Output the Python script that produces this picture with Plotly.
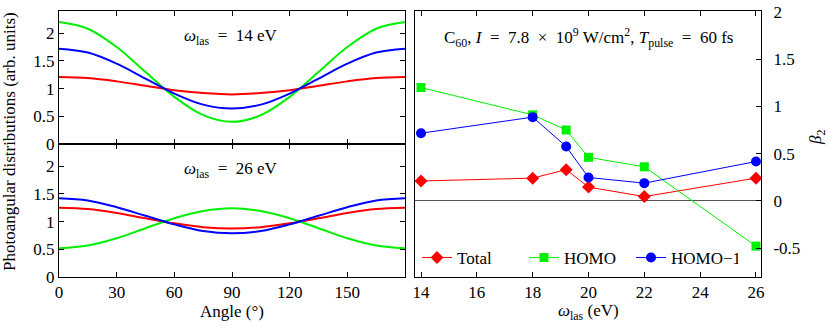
import plotly.graph_objects as go

# ---------------- data ----------------
angles = [0, 15, 30, 45, 60, 75, 90, 105, 120, 135, 150, 165, 180]

# omega_las = 14 eV
d14_total = [1.21, 1.19, 1.13, 1.05, 0.97, 0.92, 0.895, 0.92, 0.97, 1.05, 1.13, 1.19, 1.21]
d14_homo = [2.20, 2.08, 1.75, 1.30, 0.85, 0.52, 0.40, 0.52, 0.85, 1.30, 1.75, 2.08, 2.20]
d14_homo1 = [1.72, 1.65, 1.45, 1.18, 0.91, 0.71, 0.64, 0.71, 0.91, 1.18, 1.45, 1.65, 1.72]

# omega_las = 26 eV
d26_total = [1.25, 1.225, 1.155, 1.06, 0.97, 0.90, 0.875, 0.90, 0.97, 1.06, 1.155, 1.225, 1.25]
d26_homo = [0.52, 0.57, 0.70, 0.88, 1.06, 1.19, 1.24, 1.19, 1.06, 0.88, 0.70, 0.57, 0.52]
d26_homo1 = [1.42, 1.38, 1.26, 1.105, 0.95, 0.83, 0.79, 0.83, 0.95, 1.105, 1.26, 1.38, 1.42]

# beta_2 vs photon energy
omega = [14, 18, 19.2, 20, 22, 26]
beta_total = [0.21, 0.24, 0.33, 0.145, 0.045, 0.24]
beta_homo = [1.20, 0.91, 0.75, 0.46, 0.36, -0.48]
beta_homo1 = [0.716, 0.886, 0.575, 0.247, 0.187, 0.416]

angle_ticks = [0, 30, 60, 90, 120, 150]
dist_ticks = [0, 0.5, 1, 1.5, 2]
dist_ticktext = ["0", "0.5", "1", "1.5", "2"]
omega_ticks = [14, 16, 18, 20, 22, 24, 26]
beta_ticks = [-0.5, 0, 0.5, 1, 1.5, 2]
beta_ticktext = ["-0.5", "0", "0.5", "1", "1.5", "2"]

RED = "#ff0000"
GREEN = "#00f000"
BLUE = "#0000ff"
FONT = "Liberation Serif"
FS = 17
W, H = 831, 326

fig = go.Figure()

# left panels
for xa, ya, data in [("x", "y", (d14_total, d14_homo, d14_homo1)),
                     ("x2", "y2", (d26_total, d26_homo, d26_homo1))]:
    for vals, col in zip(data, (RED, GREEN, BLUE)):
        fig.add_trace(go.Scatter(x=angles, y=vals, mode="lines", xaxis=xa, yaxis=ya,
                                 line=dict(color=col, width=2, shape="spline", smoothing=1.0),
                                 showlegend=False, hoverinfo="skip"))

# right panel
fig.add_trace(go.Scatter(x=omega, y=beta_total, mode="lines+markers", name="Total",
                         xaxis="x3", yaxis="y3", line=dict(color=RED, width=1),
                         marker=dict(symbol="diamond", size=10, color=RED)))
fig.add_trace(go.Scatter(x=omega, y=beta_homo, mode="lines+markers", name="HOMO",
                         xaxis="x3", yaxis="y3", line=dict(color=GREEN, width=1),
                         marker=dict(symbol="square", size=9, color=GREEN)))
fig.add_trace(go.Scatter(x=omega, y=beta_homo1, mode="lines+markers", name="HOMO\u22121",
                         xaxis="x3", yaxis="y3", line=dict(color=BLUE, width=1),
                         marker=dict(symbol="circle", size=10, color=BLUE)))

def px_x(p):
    return p / W

def px_y(p):
    return 1 - p / H

L0, L1 = px_x(59), px_x(405)
R0, R1 = px_x(415), px_x(761)
YB, YM, YT = px_y(277), px_y(144), px_y(11)

tickfont = dict(family=FONT, size=FS, color="black")
common = dict(showline=True, linecolor="black", linewidth=1, ticks="inside", ticklen=5,
              tickcolor="black", showgrid=False, tickfont=tickfont, automargin=False)

fig.update_layout(
    width=W, height=H, margin=dict(l=0, r=0, t=0, b=0, autoexpand=False),
    paper_bgcolor="white", plot_bgcolor="white",
    font=dict(family=FONT, size=FS, color="black"),
    xaxis=dict(domain=[L0, L1], range=[0, 180], tickvals=angle_ticks, showticklabels=False,
               mirror="allticks", anchor="y", zeroline=False, **common),
    yaxis=dict(domain=[YM, YT], range=[0, 2.4], tickvals=dist_ticks, ticktext=dist_ticktext,
               mirror="allticks", anchor="x", zeroline=False, **common),
    xaxis2=dict(domain=[L0, L1], range=[0, 180], tickvals=angle_ticks,
                mirror="allticks", anchor="y2", zeroline=False, **common),
    yaxis2=dict(domain=[YB, YM], range=[0, 2.4], tickvals=dist_ticks, ticktext=dist_ticktext,
                mirror="allticks", anchor="x2", zeroline=False, **common),
    xaxis3=dict(domain=[R0, R1], range=[13.785, 26.18], tickvals=omega_ticks,
                mirror="allticks", anchor="y3", zeroline=False, **common),
    yaxis3=dict(domain=[YB, YT], range=[-0.807, 2.01], tickvals=beta_ticks, ticktext=beta_ticktext,
                side="right", mirror=True, anchor="x3", ticklabelstandoff=8,
                zeroline=True, zerolinecolor="#555555", zerolinewidth=1, **common),
    legend=dict(orientation="h", x=px_x(417), y=px_y(258), xanchor="left", yanchor="middle",
                bgcolor="rgba(0,0,0,0)", font=dict(family=FONT, size=FS),
                entrywidth=62, entrywidthmode="pixels", itemwidth=30),
    showlegend=True,
)

EQ = "\u2002=\u2002"
ann = [
    dict(text=f"<i>ω</i><sub>las</sub>{EQ}14 eV", x=px_x(231), y=px_y(37)),
    dict(text=f"<i>ω</i><sub>las</sub>{EQ}26 eV", x=px_x(231), y=px_y(170)),
    dict(text=f"C<sub>60</sub>, <i>I</i>{EQ}7.8\u2002\u00d7\u200210<sup>9</sup> W/cm<sup>2</sup>, "
              f"<i>T</i><sub>pulse</sub>{EQ}60 fs",
         x=px_x(588), y=px_y(37)),
    dict(text="Angle (°)", x=px_x(232), y=px_y(311)),
    dict(text="<i>ω</i><sub>las</sub> (eV)", x=px_x(588), y=px_y(312)),
    dict(text="Photoangular distributions (arb. units)", x=px_x(10), y=px_y(142), textangle=-90),
    dict(text="<i>β</i><sub>2</sub>", x=px_x(817), y=px_y(138), textangle=-90),
]
for a in ann:
    fig.add_annotation(xref="paper", yref="paper", showarrow=False,
                       xanchor="center", yanchor="middle",
                       font=dict(family=FONT, size=FS, color="black"), **a)

fig.write_html("out.html", config={"displayModeBar": False},
               post_script="document.body.style.margin='0px';")
